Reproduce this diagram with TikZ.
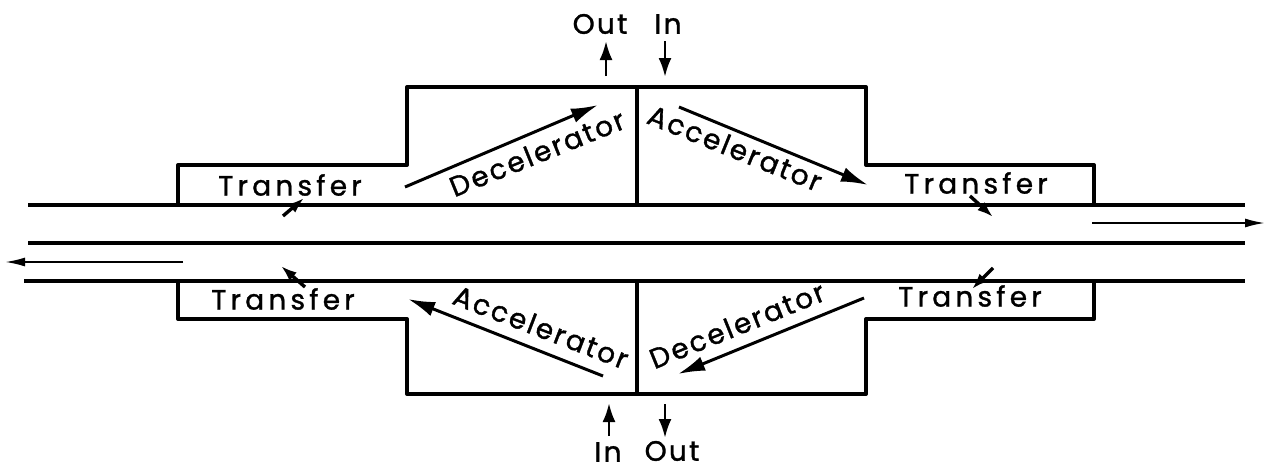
\documentclass[tikz,border=0pt]{standalone}
\usepackage{fontspec}
\setmainfont[LetterSpace=8,FakeBold=1.2]{Poppins}
\newfontface\widefont[LetterSpace=15,FakeBold=1.2]{Poppins}
\usetikzlibrary{arrows.meta}
\tikzset{
  wall/.style={line width=4pt,line join=round},
  flow/.style={line width=3pt,-{Latex[length=27pt,width=15pt]}},
  port/.style={line width=2.8pt,-{Latex[length=19pt,width=13pt]}},
  beam/.style={line width=2pt,-{Latex[length=20pt,width=9pt]}},
  tick/.style={line width=3.4pt,-{Latex[length=16pt,width=11pt]}},
  lbl/.style={font=\fontsize{28}{30}\selectfont,inner sep=0pt},
  wlbl/.style={font=\fontsize{28}{30}\selectfont\widefont,inner sep=0pt},
}
\begin{document}
\begin{tikzpicture}[x=1pt,y=-1pt]
\useasboundingbox (0,0) rectangle (1266,471);
% pipes
\coordinate (p1a) at (28,205); \coordinate (p1b) at (1245,205);
\coordinate (p2a) at (28,243); \coordinate (p2b) at (1245,243);
\coordinate (p3a) at (24,281); \coordinate (p3b) at (1245,281);
\draw[wall] (p1a) -- (p1b);
\draw[wall] (p2a) -- (p2b);
\draw[wall] (p3a) -- (p3b);
% upper housing
\draw[wall] (178,205) -- (178,165) -- (407,165) -- (407,87) -- (866,87) -- (866,165) -- (1094,165) -- (1094,205);
\coordinate (ct) at (637,87); \coordinate (cb) at (637,205);
\draw[wall] (ct) -- (cb);
% lower housing
\draw[wall] (178,281) -- (178,319) -- (407,319) -- (407,394) -- (866,394) -- (866,319) -- (1094,319) -- (1094,281);
\coordinate (dt) at (637,281); \coordinate (db) at (637,394);
\draw[wall] (dt) -- (db);
% labels
\node[wlbl] (t1) at (290,185) {Transfer};
\node[wlbl] (t2) at (976,183) {Transfer};
\node[wlbl] (t3) at (283,299) {Transfer};
\node[wlbl] (t4) at (970,296) {Transfer};
\node[lbl,rotate=22] (d1) at (537,153) {Decelerator};
\node[lbl,rotate=-22] (a1) at (735,148) {Accelerator};
\node[lbl,rotate=-21] (a2) at (541,327) {Accelerator};
\node[lbl,rotate=22] (d2) at (737,325) {Decelerator};
\node[lbl] (o1) at (600,24) {Out};
\node[lbl] (i1) at (668,24) {In};
\node[lbl] (i2) at (608,452) {In};
\node[lbl] (o2) at (672,451) {Out};
% main arrows
\coordinate (f1a) at (405,187); \coordinate (f1b) at (598,105);
\coordinate (f2a) at (679,107); \coordinate (f2b) at (868,185);
\coordinate (f3a) at (603,376); \coordinate (f3b) at (408,299);
\coordinate (f4a) at (864,298); \coordinate (f4b) at (678,374);
\draw[flow] (f1a) -- (f1b);
\draw[flow] (f2a) -- (f2b);
\draw[flow] (f3a) -- (f3b);
\draw[flow] (f4a) -- (f4b);
% ports
\coordinate (q1a) at (606,76); \coordinate (q1b) at (606,41);
\coordinate (q2a) at (665,41); \coordinate (q2b) at (665,77);
\coordinate (q3a) at (609,436); \coordinate (q3b) at (609,403);
\coordinate (q4a) at (665,404); \coordinate (q4b) at (665,438);
\draw[port] (q1a) -- (q1b);
\draw[port] (q2a) -- (q2b);
\draw[port] (q3a) -- (q3b);
\draw[port] (q4a) -- (q4b);
% beam arrows
\coordinate (b1a) at (1092,223); \coordinate (b1b) at (1265,223);
\coordinate (b2a) at (183,262); \coordinate (b2b) at (5,262);
\draw[beam] (b1a) -- (b1b);
\draw[beam] (b2a) -- (b2b);
% transfer ticks
\coordinate (s1a) at (283,216); \coordinate (s1b) at (304,198);
\coordinate (s2a) at (970,196); \coordinate (s2b) at (993,217);
\coordinate (s3a) at (305,287); \coordinate (s3b) at (281,266);
\coordinate (s4a) at (993,268); \coordinate (s4b) at (972,289);
\draw[tick] (s1a) -- (s1b);
\draw[tick] (s2a) -- (s2b);
\draw[tick] (s3a) -- (s3b);
\draw[tick] (s4a) -- (s4b);
\end{tikzpicture}
\end{document}
